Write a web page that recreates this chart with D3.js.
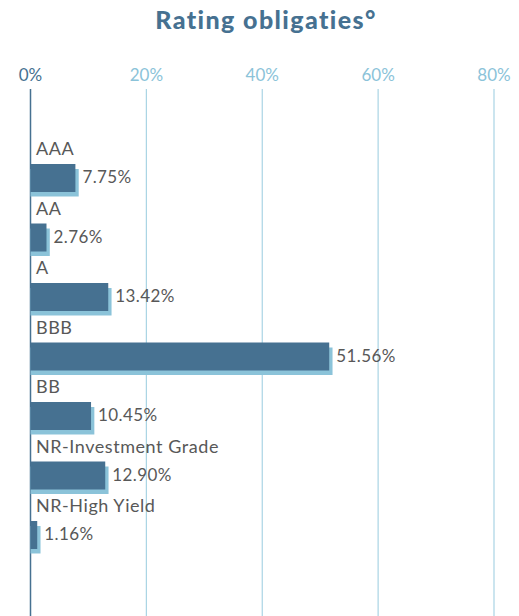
<!DOCTYPE html>
<html>
<head>
<meta charset="utf-8">
<script src="https://cdn.jsdelivr.net/npm/d3@7"></script>
<style>
  body { margin: 0; background: #fff; }
  text { font-family: Lato, "Noto Sans", sans-serif; }
</style>
</head>
<body>
<div id="container"></div>
<script>
let w = 519;
let h = 616;

// DATA
let ratings = ["AAA", "AA", "A", "BBB", "BB", "NR-Investment Grade", "NR-High Yield"];
let shares = [7.75, 2.76, 13.42, 51.56, 10.45, 12.90, 1.16];
let ticks = [0, 20, 40, 60, 80];

let dark = "#467191";
let light = "#8bc3d9";

let viz = d3.select("#container").append("svg")
    .attr("width", w)
    .attr("height", h)
;

// title
viz.append("text")
    .attr("x", 266)
    .attr("y", 29)
    .attr("text-anchor", "middle")
    .attr("font-size", 25)
    .attr("font-weight", 900)
    .attr("letter-spacing", 1.4)
    .attr("fill", dark)
    .text("Rating obligaties°")
;

// SCALES
let xScale = d3.scaleLinear().domain([0, 80]).range([30.5, 494]);
let yScale = d3.scaleBand().domain(ratings).range([130, 130 + 59.5 * 7]);

// gridlines + tick labels
viz.selectAll(".grid").data(ticks).enter()
  .append("line")
    .attr("class", "grid")
    .attr("x1", d => xScale(d))
    .attr("x2", d => xScale(d))
    .attr("y1", 89)
    .attr("y2", h)
    .attr("stroke", d => d == 0 ? dark : "#a9d4e4")
    .attr("stroke-width", d => d == 0 ? 1.5 : 1.2)
;
viz.selectAll(".tick").data(ticks).enter()
  .append("text")
    .attr("class", "tick")
    .attr("x", d => xScale(d))
    .attr("y", 81)
    .attr("text-anchor", "middle")
    .attr("font-size", 17)
    .attr("fill", d => d == 0 ? dark : light)
    .text(d => d + "%")
;

let rows = ratings.map(function(r, i){
  return {rating: r, value: shares[i]};
});

// shadow bars
viz.selectAll(".shadow").data(rows).enter()
  .append("rect")
    .attr("class", "shadow")
    .attr("x", xScale(0))
    .attr("y", d => yScale(d.rating) + 39)
    .attr("width", d => xScale(d.value) - xScale(0) + 3.3)
    .attr("height", 27.5)
    .attr("fill", light)
;
// bars
viz.selectAll(".bar").data(rows).enter()
  .append("rect")
    .attr("class", "bar")
    .attr("x", xScale(0))
    .attr("y", d => yScale(d.rating) + 34)
    .attr("width", d => xScale(d.value) - xScale(0))
    .attr("height", 28)
    .attr("fill", dark)
;
// category labels
viz.selectAll(".label").data(rows).enter()
  .append("text")
    .attr("class", "label")
    .attr("x", 36)
    .attr("y", d => yScale(d.rating) + 25)
    .attr("font-size", 18)
    .attr("letter-spacing", 0.55)
    .attr("fill", "#585858")
    .text(d => d.rating)
;
// value labels
viz.selectAll(".val").data(rows).enter()
  .append("text")
    .attr("class", "val")
    .attr("x", d => xScale(d.value) + 7)
    .attr("y", d => yScale(d.rating) + 53)
    .attr("font-size", 17)
    .attr("letter-spacing", 0.4)
    .attr("fill", "#585858")
    .text(d => d.value.toFixed(2) + "%")
;
</script>
</body>
</html>
